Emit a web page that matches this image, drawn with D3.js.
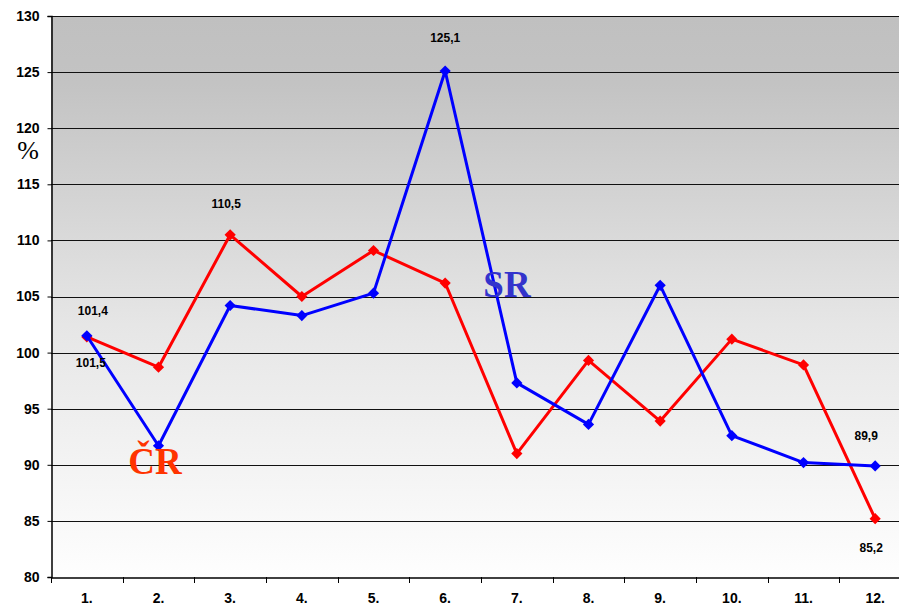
<!DOCTYPE html>
<html><head><meta charset="utf-8">
<script src="https://cdn.jsdelivr.net/npm/d3@7"></script>
<style>body{margin:0;background:#fff;overflow:hidden}svg{display:block}</style>
</head><body>
<svg id="c" width="899" height="607"></svg>
<script>
const categories = ["1.","2.","3.","4.","5.","6.","7.","8.","9.","10.","11.","12."];
const cr = [101.4, 98.7, 110.5, 105.0, 109.1, 106.2, 91.0, 99.3, 93.9, 101.2, 98.9, 85.2];
const sr = [101.5, 91.7, 104.2, 103.3, 105.3, 125.1, 97.3, 93.6, 106.0, 92.6, 90.2, 89.9];
const yTicks = [80, 85, 90, 95, 100, 105, 110, 115, 120, 125, 130];
const labels = [
  {series: "cr", i: 0, text: "101,4", dx: 6, dy: -26},
  {series: "sr", i: 0, text: "101,5", dx: 4, dy: 27},
  {series: "cr", i: 2, text: "110,5", dx: -4, dy: -31},
  {series: "sr", i: 5, text: "125,1", dx: 0, dy: -33},
  {series: "sr", i: 11, text: "89,9", dx: -9, dy: -30},
  {series: "cr", i: 11, text: "85,2", dx: -4, dy: 29}
];

const svg = d3.select("#c");
const L = 51, R = 911, T = 16, B = 577;
const x = d3.scaleBand().domain(categories).range([L, R]);
const y = d3.scaleLinear().domain([80, 130]).range([B, T]);

const defs = svg.append("defs");
const g = defs.append("linearGradient").attr("id","bg").attr("x1",0).attr("y1",0).attr("x2",0).attr("y2",1);
g.append("stop").attr("offset","0%").attr("stop-color","#c0c0c0");
g.append("stop").attr("offset","12%").attr("stop-color","#c3c3c3");
g.append("stop").attr("offset","55%").attr("stop-color","#e6e6e6");
g.append("stop").attr("offset","100%").attr("stop-color","#fefefe");

svg.append("rect").attr("x", L).attr("y", T).attr("width", R - L).attr("height", B - T).attr("fill", "url(#bg)");

// gridlines
svg.append("g").selectAll("line").data(yTicks.filter(d => d > 80)).join("line")
  .attr("x1", L).attr("x2", R).attr("y1", d => Math.round(y(d)) + 0.5).attr("y2", d => Math.round(y(d)) + 0.5)
  .attr("stroke", "#111").attr("stroke-width", 1);

// y axis
const yAxis = d3.axisLeft(y).tickValues(yTicks).tickSize(4).tickPadding(8).tickFormat(d3.format("d"));
const ya = svg.append("g").attr("transform", `translate(${L + 0.5},0)`).call(yAxis);
ya.select(".domain").attr("stroke", "#000").attr("stroke-width", 1.5);
ya.selectAll(".tick line").attr("stroke", "#000");
ya.selectAll(".tick text").attr("font-family", "Liberation Sans, Arial, sans-serif")
  .attr("font-weight", "bold").attr("font-size", 14).attr("fill", "#000");

// x axis
const xa = svg.append("g").attr("transform", `translate(0,${B + 0.5})`)
  .call(d3.axisBottom(x).tickSize(0).tickPadding(16));
xa.select(".domain").attr("stroke", "#000").attr("stroke-width", 1.5);
xa.selectAll(".tick text").attr("font-family", "Liberation Sans, Arial, sans-serif")
  .attr("font-weight", "bold").attr("font-size", 14).attr("fill", "#000");
svg.append("g").selectAll("line").data(categories).join("line")
  .attr("x1", d => Math.round(x(d)) + 0.5).attr("x2", d => Math.round(x(d)) + 0.5)
  .attr("y1", B).attr("y2", B + 6).attr("stroke", "#000").attr("stroke-width", 1);

// series
const cx = (d, i) => x(categories[i]) + x.bandwidth() / 2;
const line = d3.line().x(cx).y(d => y(d));
const plot = svg.append("g");
function drawSeries(data, color) {
  plot.append("path").datum(data).attr("d", line).attr("fill", "none")
    .attr("stroke", color).attr("stroke-width", 3).attr("stroke-linejoin", "round");
  plot.append("g").selectAll("path").data(data).join("path")
    .attr("d", d3.symbol(d3.symbolDiamond2, 80))
    .attr("transform", (d, i) => `translate(${cx(d, i)},${y(d)})`)
    .attr("fill", color);
}
drawSeries(cr, "#ff0000");
drawSeries(sr, "#0000ff");

// value labels
const seriesMap = {cr, sr};
svg.append("g").selectAll("text").data(labels).join("text")
  .attr("x", d => cx(null, d.i) + d.dx)
  .attr("y", d => y(seriesMap[d.series][d.i]) + d.dy + 4)
  .attr("text-anchor", "middle")
  .attr("font-family", "Liberation Sans, Arial, sans-serif").attr("font-weight", "bold")
  .attr("font-size", 12).attr("fill", "#000").text(d => d.text);

// series names
svg.append("text").attr("x", 155).attr("y", 474).attr("text-anchor", "middle")
  .attr("font-family", "Liberation Serif, Times New Roman, serif").attr("font-weight", "bold")
  .attr("font-size", 37).attr("fill", "#ff3300").text("ČR");
svg.append("text").attr("x", 507).attr("y", 297).attr("text-anchor", "middle")
  .attr("font-family", "Liberation Serif, Times New Roman, serif").attr("font-weight", "bold")
  .attr("font-size", 37).attr("fill", "#3333cc").text("SR");
svg.append("text").attr("x", 28).attr("y", 159).attr("text-anchor", "middle")
  .attr("font-family", "Liberation Serif, Times New Roman, serif")
  .attr("font-size", 26).attr("fill", "#000").text("%");
</script>
</body></html>
